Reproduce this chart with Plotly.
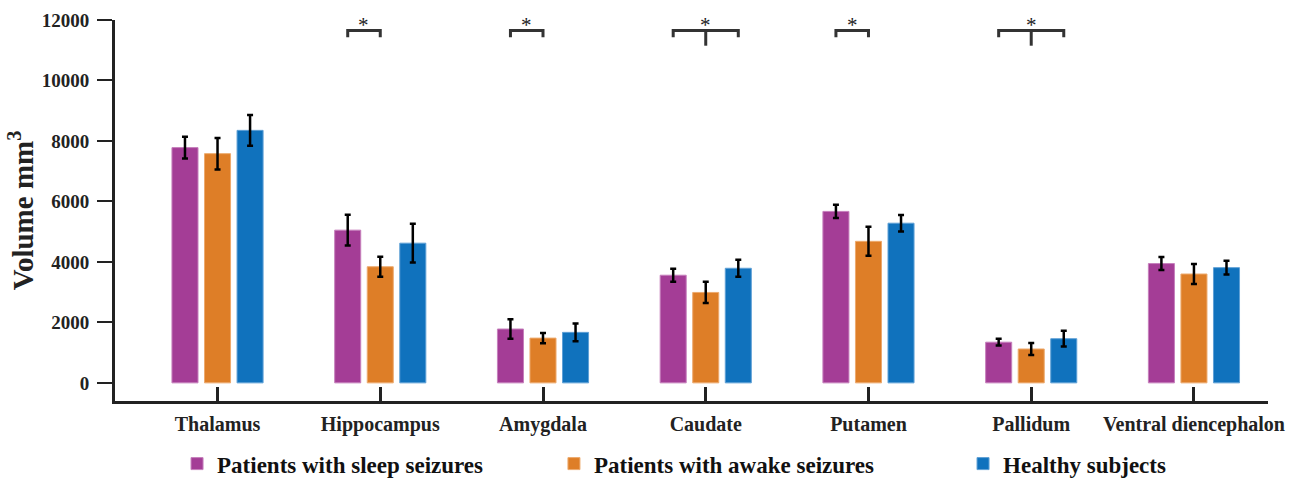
import plotly.graph_objects as go

categories = ["Thalamus", "Hippocampus", "Amygdala", "Caudate", "Putamen", "Pallidum", "Ventral diencephalon"]
series_names = ["Patients with sleep seizures", "Patients with awake seizures", "Healthy subjects"]
sleep = [7780, 5050, 1780, 3560, 5670, 1345, 3945]
sleep_err = [360, 510, 320, 215, 220, 110, 215]
awake = [7580, 3840, 1480, 2990, 4680, 1120, 3600]
awake_err = [520, 330, 170, 350, 480, 200, 330]
healthy = [8350, 4620, 1670, 3790, 5280, 1460, 3810]
healthy_err = [510, 640, 290, 285, 275, 260, 225]
colors = ["#A43D96", "#DE7E27", "#1072BD"]
edge_colors = ["#C67FBC", "#EDAA6E", "#5FA0D6"]
y_ticks = [0, 2000, 4000, 6000, 8000, 10000, 12000]
# significance: (category, first series index, last series index, middle stem)
significance = [
    ("Hippocampus", 0, 1, False),
    ("Amygdala", 0, 1, False),
    ("Caudate", 0, 2, True),
    ("Putamen", 0, 1, False),
    ("Pallidum", 0, 2, True),
]
sig_level = 11650

FONT = "Times New Roman, Liberation Serif, serif"
BARGAP = 0.4
GROUPGAP = 0.2
legend_x = [0.0538, 0.3807, 0.7355]
legend_ids = ["legend", "legend2", "legend3"]

fig = go.Figure()
for name, vals, errs, col, ec, lid in zip(series_names, [sleep, awake, healthy],
                                          [sleep_err, awake_err, healthy_err], colors, edge_colors, legend_ids):
    fig.add_trace(go.Bar(
        x=categories, y=vals, name=name, legend=lid, showlegend=True,
        marker=dict(color=col, line=dict(color=ec, width=1)),
        error_y=dict(type="data", array=errs, color="black", thickness=2.5, width=3),
    ))

n = 3
slot = (1 - BARGAP) / n
offsets = [(i - (n - 1) / 2) * slot for i in range(n)]
line_style = dict(color="#333333", width=3)
drop = 220
for cat, a, b, stem in significance:
    ci = categories.index(cat)
    x0 = ci + offsets[a]
    x1 = ci + offsets[b]
    fig.add_shape(type="path",
                  path=f"M {x0},{sig_level - drop} L {x0},{sig_level} L {x1},{sig_level} L {x1},{sig_level - drop}",
                  xref="x", yref="y", line=line_style)
    if stem:
        xm = (x0 + x1) / 2
        fig.add_shape(type="line", x0=xm, x1=xm, y0=sig_level, y1=sig_level - 500,
                      xref="x", yref="y", line=line_style)
    fig.add_annotation(x=(x0 + x1) / 2, y=sig_level, text="*", showarrow=False,
                       xref="x", yref="y", yanchor="bottom", yshift=-8,
                       font=dict(family=FONT, size=21, color="#222"))

legend_common = dict(orientation="h", xanchor="left", y=-0.108, yanchor="top",
                     bgcolor="rgba(0,0,0,0)", visible=True,
                     font=dict(family=FONT, size=23, weight="bold", color="#111"),
                     itemwidth=30)
fig.update_layout(
    width=1301, height=479,
    margin=dict(l=115, r=33, t=20, b=78, autoexpand=False),
    plot_bgcolor="white", paper_bgcolor="white",
    showlegend=True,
    barmode="group", bargap=BARGAP, bargroupgap=GROUPGAP,
    font=dict(family=FONT, color="#222"),
    legend=dict(x=legend_x[0], **legend_common),
    legend2=dict(x=legend_x[1], **legend_common),
    legend3=dict(x=legend_x[2], **legend_common),
)
fig.update_xaxes(
    type="category", range=[-0.63, 6.455], automargin=False,
    showline=True, linecolor="#222", linewidth=3,
    ticks="inside", ticklen=14, tickwidth=3, tickcolor="#222",
    ticklabelstandoff=3,
    tickfont=dict(family=FONT, size=20, weight="bold", color="#222"),
    showgrid=False, zeroline=False,
)
fig.update_yaxes(
    range=[-600, 12000], automargin=False,
    tickvals=y_ticks, ticktext=[str(v) for v in y_ticks],
    showline=True, linecolor="#222", linewidth=3,
    ticks="outside", ticklen=15, tickwidth=2, tickcolor="#222",
    ticklabelstandoff=4,
    tickfont=dict(family=FONT, size=19, weight="bold", color="#222"),
    showgrid=False, zeroline=False,
    title=dict(text="Volume mm<sup>3</sup>", font=dict(family=FONT, size=29, weight="bold", color="#222"),
               standoff=0),
)
fig.write_html("out.html", config={"displayModeBar": False},
               post_script="document.body.style.margin='0';document.body.style.overflow='hidden';")
